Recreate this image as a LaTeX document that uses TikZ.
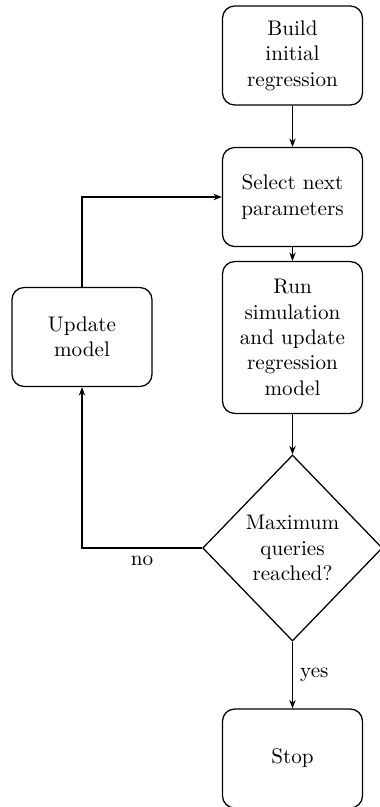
\documentclass[tikz,border=0pt]{standalone}
\usepackage{tikz}
\usetikzlibrary{positioning}
\usetikzlibrary{arrows.meta}
\usetikzlibrary{shapes.geometric}

\tikzset{
    stepbox/.style={draw, rounded corners=5.7pt, minimum width=66.2pt, minimum height=46.8pt, align=center},
    decision/.style={draw, diamond, aspect=1, minimum width=85pt, minimum height=88pt, inner sep=0pt, align=center}
}

\begin{document}
\begin{tikzpicture}[x=0.473pt, y=-0.473pt, semithick, >={Stealth[length=4pt,width=3pt]}]
    \useasboundingbox (0,0) rectangle (379,807);

    \node[stepbox] (build) at (292.5,55.5) {Build\\initial\\regression};
    \node[stepbox] (select) at (292.5,197) {Select next\\parameters};
    \node[stepbox, minimum height=71.8pt] (run) at (292.5,337.5) {Run\\simulation\\and update\\regression\\model};
    \node[decision] (maxq) at (292.5,548) {Maximum\\queries\\reached?};
    \node[stepbox] (stop) at (292.5,758.5) {Stop};
    \node[stepbox] (update) at (82,337) {Update\\model};

    \draw[->] (build) -- (select);
    \draw[->] (select) -- (run);
    \draw[->] (run) -- (maxq);
    \draw[->] (maxq) -- node[right] {yes} (stop);
    \draw[->] (maxq.west) -| node[pos=0.25, below] {no} (update.south);
    \draw[->] (update.north) |- (select.west);
\end{tikzpicture}
\end{document}
